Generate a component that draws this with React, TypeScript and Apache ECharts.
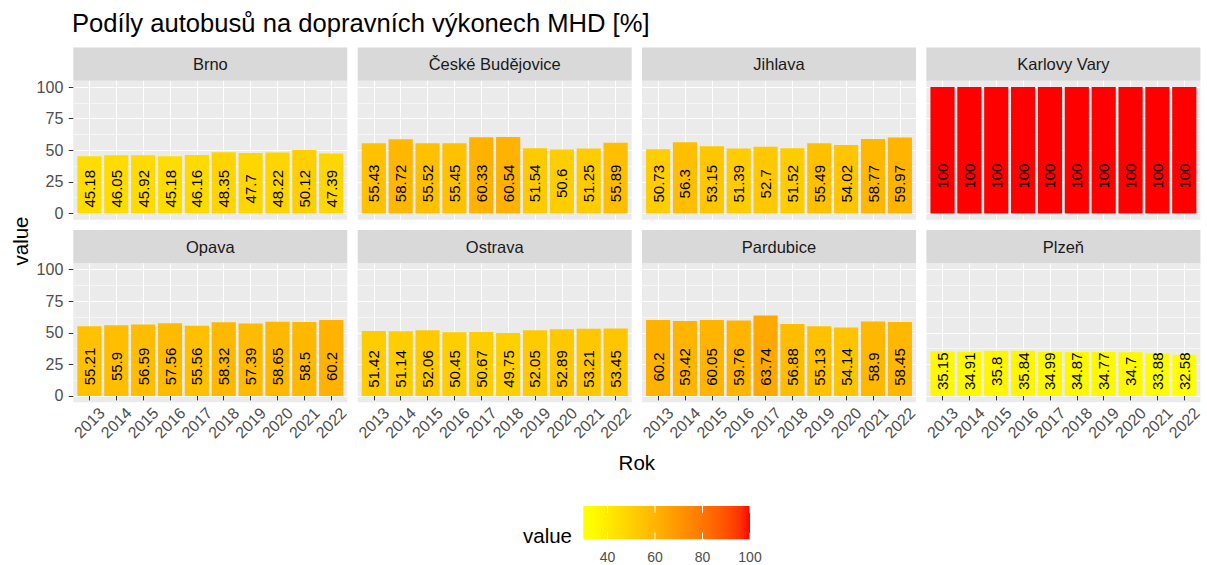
import React, { useEffect, useRef } from "react";
import * as echarts from "echarts";

const YEARS = ["2013", "2014", "2015", "2016", "2017", "2018", "2019", "2020", "2021", "2022"];
const CITIES = ["Brno", "České Budějovice", "Jihlava", "Karlovy Vary", "Opava", "Ostrava", "Pardubice", "Plzeň"];
const BRNO = [45.18, 46.05, 45.92, 45.18, 46.16, 48.35, 47.7, 48.22, 50.12, 47.39];
const CESKE_BUDEJOVICE = [55.43, 58.72, 55.52, 55.45, 60.33, 60.54, 51.54, 50.6, 51.25, 55.89];
const JIHLAVA = [50.73, 56.3, 53.15, 51.39, 52.7, 51.52, 55.49, 54.02, 58.77, 59.97];
const KARLOVY_VARY = [100, 100, 100, 100, 100, 100, 100, 100, 100, 100];
const OPAVA = [55.21, 55.9, 56.59, 57.56, 55.56, 58.32, 57.39, 58.65, 58.5, 60.2];
const OSTRAVA = [51.42, 51.14, 52.06, 50.45, 50.67, 49.75, 52.05, 52.89, 53.21, 53.45];
const PARDUBICE = [60.2, 59.42, 60.05, 59.76, 63.74, 56.88, 55.13, 54.14, 58.9, 58.45];
const PLZEN = [35.15, 34.91, 35.8, 35.84, 34.99, 34.87, 34.77, 34.7, 33.88, 32.58];
const SERIES = [BRNO, CESKE_BUDEJOVICE, JIHLAVA, KARLOVY_VARY, OPAVA, OSTRAVA, PARDUBICE, PLZEN];
const Y_TICKS = [0, 25, 50, 75, 100];
const Y_MINOR = [12.5, 37.5, 62.5, 87.5];
const LEGEND_TICKS = [40, 60, 80, 100];

// ---- layout / style constants ----
const FONT = "'Liberation Sans', Arial, sans-serif";
const COL_X = [73.3, 357.7, 642, 926.4];
const PANEL_W = 274;
const STRIP_TOP = [47.5, 230];
const STRIP_H = 33.2;
const PANEL_TOP = [80.7, 263.3];
const PANEL_H = 139;
const LABEL_DIST = [24.6, 30, 29.6, 37.3, 29.5, 27, 29, 24.7];
const LEG_X = 583.3;
const LEG_W = 166.7;
const LEG_Y = 506;
const LEG_H = 33.3;
const LEG_LO = 29.8; // value at left edge of colour bar

// ---- Lab colour interpolation (like ggplot's gradient) ----
function toLin(c: number) {
  c /= 255;
  return c <= 0.04045 ? c / 12.92 : Math.pow((c + 0.055) / 1.055, 2.4);
}
function fromLin(c: number) {
  const v = c <= 0.0031308 ? 12.92 * c : 1.055 * Math.pow(c, 1 / 2.4) - 0.055;
  return Math.max(0, Math.min(255, Math.round(v * 255)));
}
const XN = 0.95047, YN = 1, ZN = 1.08883;
function rgb2lab(rgb: number[]) {
  const r = toLin(rgb[0]), g = toLin(rgb[1]), b = toLin(rgb[2]);
  const X = (0.4124 * r + 0.3576 * g + 0.1805 * b) / XN;
  const Y = (0.2126 * r + 0.7152 * g + 0.0722 * b) / YN;
  const Z = (0.0193 * r + 0.1192 * g + 0.9505 * b) / ZN;
  const f = (t: number) => (t > 0.008856 ? Math.cbrt(t) : 7.787 * t + 16 / 116);
  const fx = f(X), fy = f(Y), fz = f(Z);
  return [116 * fy - 16, 500 * (fx - fy), 200 * (fy - fz)];
}
function lab2rgb(lab: number[]) {
  const fy = (lab[0] + 16) / 116;
  const fx = fy + lab[1] / 500;
  const fz = fy - lab[2] / 200;
  const inv = (t: number) => (t * t * t > 0.008856 ? t * t * t : (t - 16 / 116) / 7.787);
  const X = inv(fx) * XN, Y = inv(fy) * YN, Z = inv(fz) * ZN;
  const r = 3.2406 * X - 1.5372 * Y - 0.4986 * Z;
  const g = -0.9689 * X + 1.8758 * Y + 0.0415 * Z;
  const b = 0.0557 * X - 0.204 * Y + 1.057 * Z;
  return "rgb(" + fromLin(r) + "," + fromLin(g) + "," + fromLin(b) + ")";
}
const LOW = rgb2lab([255, 255, 0]);
const HIGH = rgb2lab([255, 0, 0]);
const ALL = ([] as number[]).concat(...SERIES);
const DMIN = Math.min(...ALL);
const DMAX = Math.max(...ALL);
function colorOf(v: number) {
  let t = (v - DMIN) / (DMAX - DMIN);
  t = Math.max(0, Math.min(1, t));
  return lab2rgb([0, 1, 2].map((k) => LOW[k] + (HIGH[k] - LOW[k]) * t));
}

export default function App() {
  const ref = useRef<HTMLDivElement>(null);
  useEffect(() => {
    if (!ref.current) return;
    const chart = echarts.init(ref.current, undefined, { renderer: "svg" });
    const grids: any[] = [];
    const xAxes: any[] = [];
    const yAxes: any[] = [];
    const series: any[] = [];
    const graphics: any[] = [];
    const idx = YEARS.map((_, i) => i + 1);

    CITIES.forEach((city, p) => {
      const row = Math.floor(p / 4);
      const col = p % 4;
      grids.push({
        left: COL_X[col],
        top: PANEL_TOP[row],
        width: PANEL_W,
        height: PANEL_H,
        show: true,
        backgroundColor: "#EBEBEB",
        borderWidth: 0,
      });
      xAxes.push({
        gridIndex: p,
        type: "value",
        min: 0.4,
        max: 10.6,
        axisLine: { show: false },
        axisTick: { show: row === 1, customValues: idx, length: 4.5, lineStyle: { color: "#333333", width: 1 } },
        axisLabel: {
          show: row === 1,
          customValues: idx,
          formatter: (v: number) => YEARS[Math.round(v) - 1],
          rotate: 45,
          align: "center",
          verticalAlign: "middle",
          margin: 20.5,
          fontSize: 16,
          color: "#4D4D4D",
          fontFamily: FONT,
        },
        splitLine: { show: true, lineStyle: { color: "#FFFFFF", width: 1.1 } },
      });
      yAxes.push({
        gridIndex: p,
        type: "value",
        min: -5,
        max: 105,
        position: "left",
        axisLine: { show: false },
        axisTick: { show: col === 0, customValues: Y_TICKS, length: 4.5, lineStyle: { color: "#333333", width: 1 } },
        axisLabel: {
          show: col === 0,
          customValues: Y_TICKS,
          margin: 10,
          fontSize: 16,
          color: "#4D4D4D",
          fontFamily: FONT,
        },
        splitLine: { show: true, lineStyle: { color: "#FFFFFF", width: 1.1 } },
      });
      yAxes.push({
        gridIndex: p,
        type: "value",
        min: -5,
        max: 105,
        position: "right",
        axisLine: { show: false },
        axisTick: { show: false, customValues: Y_MINOR },
        axisLabel: { show: false, customValues: Y_MINOR },
        splitLine: { show: true, lineStyle: { color: "#FFFFFF", width: 0.55 } },
      });
      series.push({
        type: "bar",
        xAxisIndex: p,
        yAxisIndex: p * 2,
        barWidth: "90%",
        z: 3,
        data: SERIES[p].map((v, i) => ({ value: [i + 1, v], itemStyle: { color: colorOf(v) } })),
        label: {
          show: true,
          position: "insideBottom",
          distance: LABEL_DIST[p],
          rotate: 90,
          align: "center",
          verticalAlign: "middle",
          fontSize: 15,
          color: "#000000",
          fontFamily: FONT,
          formatter: (pr: any) => String(pr.value[1]),
        },
      });
      graphics.push({
        type: "rect",
        shape: { x: COL_X[col], y: STRIP_TOP[row], width: PANEL_W, height: STRIP_H },
        style: { fill: "#D9D9D9" },
      });
      graphics.push({
        type: "text",
        x: COL_X[col] + PANEL_W / 2,
        y: STRIP_TOP[row] + STRIP_H / 2,
        style: {
          text: city,
          fill: "#1A1A1A",
          fontSize: 16.5,
          fontFamily: FONT,
          align: "center",
          verticalAlign: "middle",
        },
      });
    });

    // titles
    graphics.push({
      type: "text",
      x: 72,
      y: 23,
      style: {
        text: "Podíly autobusů na dopravních výkonech MHD [%]",
        fill: "#000000",
        fontSize: 25.6,
        fontFamily: FONT,
        align: "left",
        verticalAlign: "middle",
      },
    });
    graphics.push({
      type: "text",
      x: 20,
      y: 241,
      rotation: Math.PI / 2,
      style: { text: "value", fill: "#000000", fontSize: 20.5, fontFamily: FONT, align: "center", verticalAlign: "middle" },
    });
    graphics.push({
      type: "text",
      x: (COL_X[0] + COL_X[3] + PANEL_W) / 2,
      y: 462,
      style: { text: "Rok", fill: "#000000", fontSize: 20.5, fontFamily: FONT, align: "center", verticalAlign: "middle" },
    });

    // legend colour bar
    const stops: any[] = [];
    for (let s = 0; s <= 20; s++) {
      const v = LEG_LO + (s / 20) * (DMAX - LEG_LO);
      stops.push({ offset: s / 20, color: colorOf(v) });
    }
    graphics.push({
      type: "rect",
      shape: { x: LEG_X, y: LEG_Y, width: LEG_W, height: LEG_H },
      style: { fill: new echarts.graphic.LinearGradient(0, 0, 1, 0, stops) },
    });
    const legX = (v: number) => LEG_X + ((v - LEG_LO) / (DMAX - LEG_LO)) * LEG_W;
    LEGEND_TICKS.forEach((t) => {
      const x = legX(t);
      graphics.push({
        type: "line",
        shape: { x1: x, y1: LEG_Y, x2: x, y2: LEG_Y + LEG_H / 5 },
        style: { stroke: "#FFFFFF", lineWidth: 1 },
      });
      graphics.push({
        type: "line",
        shape: { x1: x, y1: LEG_Y + LEG_H, x2: x, y2: LEG_Y + LEG_H * 0.8 },
        style: { stroke: "#FFFFFF", lineWidth: 1 },
      });
      graphics.push({
        type: "text",
        x: x,
        y: 557,
        style: { text: String(t), fill: "#4D4D4D", fontSize: 14, fontFamily: FONT, align: "center", verticalAlign: "middle" },
      });
    });
    graphics.push({
      type: "text",
      x: 572,
      y: 535,
      style: { text: "value", fill: "#000000", fontSize: 20.5, fontFamily: FONT, align: "right", verticalAlign: "middle" },
    });

    chart.setOption({
      animation: false,
      backgroundColor: "#FFFFFF",
      grid: grids,
      xAxis: xAxes,
      yAxis: yAxes,
      series: series,
      graphic: graphics,
    });
    return () => chart.dispose();
  }, []);
  return <div ref={ref} style={{ position: "fixed", left: 0, top: 0, width: 1207, height: 565 }} />;
}
